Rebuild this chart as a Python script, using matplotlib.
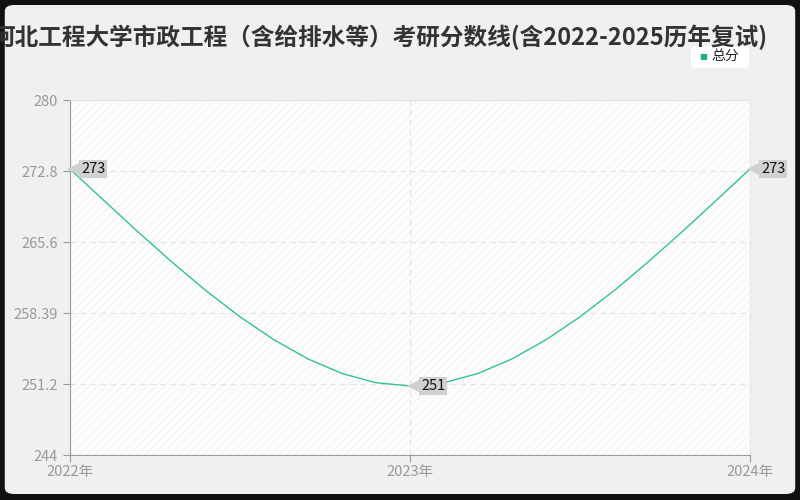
"""
河北工程大学市政工程 考研分数线 line chart
"""
import numpy as np
import matplotlib
matplotlib.use('Agg')
import matplotlib.pyplot as plt
from matplotlib.patches import FancyBboxPatch, Rectangle
from matplotlib.transforms import offset_copy

plt.rcParams['font.family'] = ['Noto Sans CJK SC', 'DejaVu Sans']
plt.rcParams['hatch.linewidth'] = 0.6

TITLE = "河北工程大学市政工程（含给排水等）考研分数线(含2022-2025历年复试)"
years = ["2022年", "2023年", "2024年"]
scores = [273, 251, 273]
series_name = "总分"
y_ticks = [244, 251.2, 258.39, 265.6, 272.8, 280]
y_tick_labels = ["244", "251.2", "258.39", "265.6", "272.8", "280"]
y_min, y_max = 244, 280

LINE_COLOR = '#33c292'
GRAY_TXT = '#999999'


def smooth(xs, ys, n=10, end_scale=1.45):
    """ piecewise cubic hermite, flat at local extrema """
    xs = np.asarray(xs, float)
    ys = np.asarray(ys, float)
    m = np.zeros_like(ys)
    m[0] = (ys[1] - ys[0]) / (xs[1] - xs[0]) * end_scale
    m[-1] = (ys[-1] - ys[-2]) / (xs[-1] - xs[-2]) * end_scale
    for i in range(1, len(xs) - 1):
        d0 = ys[i] - ys[i - 1]
        d1 = ys[i + 1] - ys[i]
        m[i] = 0 if d0 * d1 <= 0 else (d0 + d1) / 2
    out_x, out_y = [xs[0]], [ys[0]]
    for i in range(len(xs) - 1):
        h = xs[i + 1] - xs[i]
        for t in np.linspace(0, 1, n + 1)[1:]:
            h00 = 2 * t**3 - 3 * t**2 + 1
            h10 = t**3 - 2 * t**2 + t
            h01 = -2 * t**3 + 3 * t**2
            h11 = t**3 - t**2
            out_x.append(xs[i] + t * h)
            out_y.append(h00 * ys[i] + h10 * h * m[i] + h01 * ys[i + 1] + h11 * h * m[i + 1])
    return np.array(out_x), np.array(out_y)


fig = plt.figure(figsize=(8, 5), dpi=100, facecolor='#111111')
panel = FancyBboxPatch((0.006, 0.012), 0.988, 0.978, boxstyle="round,pad=0,rounding_size=0.012",
                       transform=fig.transFigure, facecolor='#f0f0f0', edgecolor='none', zorder=-5)
fig.patches.append(panel)

ax = fig.add_axes([0.0875, 0.09, 0.85, 0.71])
ax.set_facecolor('#fcfcfc')
ax.add_patch(Rectangle((0, 0), 1, 1, transform=ax.transAxes, facecolor='none',
                       edgecolor='#f1f1f1', hatch='////', linewidth=0, zorder=0))

x = np.arange(len(years))
sx, sy = smooth(x, scores)
ax.plot(sx, sy, color=LINE_COLOR, linewidth=1.0, zorder=3)

# value callouts
for xi, yi in zip(x, scores):
    tri = offset_copy(ax.transData, fig=fig, x=5, y=0, units='dots')
    ax.plot([xi], [yi], marker='<', markersize=11, color='#d0d0d0',
            markeredgewidth=0, transform=tri, zorder=4, clip_on=False)
    ax.annotate(str(yi), (xi, yi), xytext=(11, 0), textcoords='offset pixels',
                ha='left', va='center', fontsize=10.5, fontweight='medium', color='#111111',
                zorder=5, annotation_clip=False,
                bbox=dict(boxstyle='square,pad=0.12', facecolor='#d0d0d0', edgecolor='none'))

ax.set_xlim(0, len(years) - 1)
ax.set_ylim(y_min, y_max)
ax.set_xticks(x)
ax.set_xticklabels(years)
ax.set_yticks(y_ticks)
ax.set_yticklabels(y_tick_labels)
ax.tick_params(axis='both', colors='#999999', labelcolor=GRAY_TXT, labelsize=10.5, length=5, width=0.8)
ax.tick_params(axis='x', pad=2)

ax.grid(True, linestyle=(0, (5, 4)), color='#e3e3e3', linewidth=0.8)
for s in ['left', 'bottom']:
    ax.spines[s].set_color('#999999')
for s in ['top', 'right']:
    ax.spines[s].set_color('#e4e4e4')

fig.text(768 / 800, 1 - 37 / 500, TITLE, ha='right', va='center', fontsize=17,
         fontweight='bold', color='#333333')

# legend
leg_box = FancyBboxPatch((691 / 800, 1 - 68 / 500), 58 / 800, 22 / 500,
                         boxstyle="round,pad=0,rounding_size=0.006", transform=fig.transFigure,
                         facecolor='white', edgecolor='none', zorder=2)
fig.patches.append(leg_box)
fig.text(703 / 800, 1 - 56 / 500, "■", ha='center', va='center', fontsize=6,
         color='#1fb07f', family=['DejaVu Sans'], zorder=3)
fig.text(711 / 800, 1 - 56 / 500, series_name, ha='left', va='center', fontsize=10,
         color='#222222', zorder=3)

fig.savefig('out.png', dpi=100, facecolor=fig.get_facecolor())
